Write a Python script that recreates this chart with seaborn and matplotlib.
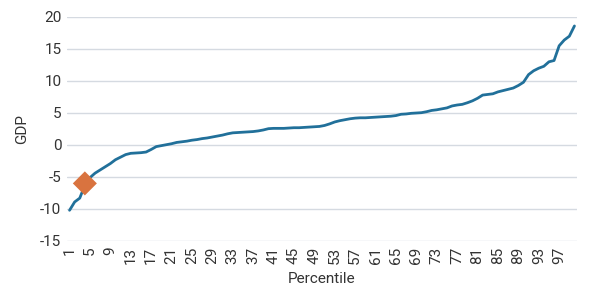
import numpy as np
import pandas as pd
import matplotlib
matplotlib.use("Agg")
import matplotlib.pyplot as plt
import seaborn as sns

percentiles = list(range(1, 101))
gdp = [-10.2, -8.9, -8.3, -6.3, -5.1, -4.4, -3.9, -3.4, -2.9, -2.3,
       -1.9, -1.5, -1.3, -1.25, -1.2, -1.1, -0.7, -0.25, -0.1, 0.05,
       0.2, 0.4, 0.5, 0.6, 0.75, 0.85, 1.0, 1.1, 1.25, 1.4,
       1.55, 1.75, 1.9, 1.95, 2.0, 2.05, 2.1, 2.2, 2.35, 2.55,
       2.6, 2.6, 2.6, 2.65, 2.7, 2.7, 2.75, 2.8, 2.85, 2.9,
       3.05, 3.3, 3.6, 3.8, 3.95, 4.1, 4.2, 4.25, 4.25, 4.3,
       4.35, 4.4, 4.45, 4.5, 4.6, 4.8, 4.85, 4.95, 5.0, 5.05,
       5.2, 5.4, 5.5, 5.65, 5.8, 6.1, 6.25, 6.35, 6.6, 6.9,
       7.3, 7.8, 7.9, 8.0, 8.3, 8.5, 8.7, 8.9, 9.3, 9.8,
       11.0, 11.6, 12.0, 12.3, 13.0, 13.2, 15.5, 16.4, 17.0, 18.6]
marker_x = [4]
marker_y = [-6.0]
x_ticks = list(range(1, 101, 4))
y_ticks = [-15, -10, -5, 0, 5, 10, 15, 20]

sns.set_theme(style="white")
plt.rcParams['font.family'] = ['Roboto', 'DejaVu Sans']
plt.rcParams['axes.unicode_minus'] = False

df = pd.DataFrame({"Percentile": percentiles, "GDP": gdp})
mk = pd.DataFrame({"Percentile": marker_x, "GDP": marker_y})

fig = plt.figure(figsize=(5.91, 2.99), dpi=100)
ax = fig.add_axes([67/591, 1 - 241/299, 510/591, 224/299])

ax.set_axisbelow(True)
for yv in y_ticks:
    ax.axhline(yv, color="#d5dae1", lw=1.0, zorder=0)

sns.lineplot(data=df, x="Percentile", y="GDP", ax=ax, color="#21709a", lw=2.0, zorder=3)
sns.scatterplot(data=mk, x="Percentile", y="GDP", ax=ax, color="#d9733f", marker="D",
                s=150, edgecolor="none", zorder=4)

ax.set_xlim(0.5, 100.5)
ax.set_ylim(-15, 20)
ax.set_xticks(x_ticks)
ax.set_xticklabels([str(t) for t in x_ticks], rotation=90)
ax.set_yticks(y_ticks)
ax.tick_params(axis="both", length=0, labelsize=11, colors="#333333", pad=4)
for s in ax.spines.values():
    s.set_visible(False)
ax.set_xlabel("Percentile", fontsize=11, color="#333333", labelpad=6)
ax.set_ylabel("GDP", fontsize=11, color="#333333", labelpad=8)

fig.savefig("out.png", dpi=100)
